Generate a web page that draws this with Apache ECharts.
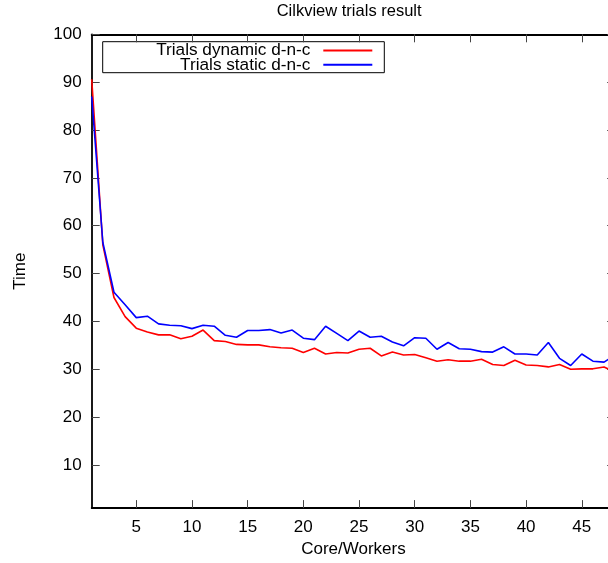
<!DOCTYPE html>
<html>
<head>
<meta charset="utf-8">
<script src="https://cdn.jsdelivr.net/npm/echarts@6/dist/echarts.min.js"></script>
<style>
  html, body { margin: 0; padding: 0; overflow: hidden; background: #fff; }
  #chart { width: 620px; height: 563px; }
</style>
</head>
<body>
<div id="chart"></div>
<script>
// data
const workers = [1, 2, 3, 4, 5, 6, 7, 8, 9, 10, 11, 12, 13, 14, 15, 16, 17, 18, 19, 20, 21, 22, 23, 24,
  25, 26, 27, 28, 29, 30, 31, 32, 33, 34, 35, 36, 37, 38, 39, 40, 41, 42, 43, 44, 45, 46, 47, 48]
const dynamicTimes = [90.6, 56.0, 45.0, 41.0, 38.6, 37.8, 37.2, 37.2, 36.4, 36.9, 38.2, 36.0, 35.8, 35.2, 35.1, 35.1,
  34.7, 34.5, 34.4, 33.5, 34.4, 33.2, 33.5, 33.4, 34.2, 34.4, 32.8, 33.6, 33.0, 33.1, 32.4, 31.7,
  32.0, 31.7, 31.7, 32.1, 31.0, 30.8, 31.9, 30.9, 30.8, 30.5, 31.0, 30.0, 30.1, 30.1, 30.5, 29.4]
const staticTimes = [87.0, 56.5, 46.1, 43.5, 40.8, 41.1, 39.5, 39.2, 39.1, 38.5, 39.2, 39.0, 37.1, 36.7, 38.1, 38.1,
  38.3, 37.6, 38.2, 36.5, 36.2, 39.0, 37.5, 36.0, 38.0, 36.7, 36.9, 35.7, 34.9, 36.6, 36.5, 34.2,
  35.6, 34.3, 34.2, 33.7, 33.6, 34.7, 33.2, 33.2, 33.0, 35.6, 32.3, 30.8, 33.2, 31.7, 31.5, 33.0]
const xTicks = [5, 10, 15, 20, 25, 30, 35, 40, 45]
const yTicks = [10, 20, 30, 40, 50, 60, 70, 80, 90, 100]
const seriesNames = ['Trials dynamic d-n-c', 'Trials static d-n-c']

const font = "'Liberation Sans', Arial, sans-serif"
const fs = 17
const legendFs = 17.2

const Chart = echarts.init(document.getElementById('chart'))

const tickStyle = { inside: true, length: 8, lineStyle: { color: '#444', width: 1 } }
const axisLine = { show: true, lineStyle: { color: '#000', width: 1.8 } }

const legendItem = (name, top) => ({
  data: [name],
  orient: 'vertical',
  align: 'right',
  right: 246.7,
  top: top,
  padding: 0,
  itemWidth: 49,
  itemHeight: 4,
  itemStyle: { opacity: 0 },
  textStyle: { fontFamily: font, fontSize: legendFs, color: '#000', padding: [0, 8, 0, 0] }
})

const option = {
  animation: false,
  backgroundColor: '#fff',
  title: {
    text: 'Cilkview trials result',
    left: 276.7,
    top: 2.5,
    padding: 0,
    textStyle: { fontFamily: font, fontSize: 16.5, fontWeight: 'normal', color: '#000' }
  },
  legend: [legendItem(seriesNames[0], 42), legendItem(seriesNames[1], 56.3)],
  graphic: [
    {
      type: 'rect',
      z: 0,
      shape: { x: 102.7, y: 41.7, width: 281.6, height: 31 },
      style: { fill: 'none', stroke: '#000', lineWidth: 1 }
    }
  ],
  grid: { left: 91.7, top: 34.3, right: 4.8, bottom: 52 },
  xAxis: [
    {
      type: 'value',
      min: 1,
      max: 48,
      name: 'Core/Workers',
      nameLocation: 'middle',
      nameGap: 31.5,
      nameTextStyle: { fontFamily: font, fontSize: fs, color: '#000' },
      axisLine: axisLine,
      axisTick: Object.assign({ customValues: xTicks }, tickStyle),
      axisLabel: { customValues: xTicks, margin: 11, fontFamily: font, fontSize: fs, color: '#000' },
      splitLine: { show: false }
    },
    {
      type: 'value',
      position: 'top',
      min: 1,
      max: 48,
      axisLine: axisLine,
      axisTick: Object.assign({ customValues: xTicks }, tickStyle),
      axisLabel: { show: false },
      splitLine: { show: false }
    }
  ],
  yAxis: [
    {
      type: 'value',
      min: 1,
      max: 100,
      name: 'Time',
      nameLocation: 'middle',
      nameRotate: 90,
      nameGap: 63,
      nameTextStyle: { fontFamily: font, fontSize: fs, color: '#000' },
      axisLine: axisLine,
      axisTick: Object.assign({ customValues: yTicks }, tickStyle),
      axisLabel: { customValues: yTicks, margin: 10, fontFamily: font, fontSize: fs, color: '#000' },
      splitLine: { show: false }
    },
    {
      type: 'value',
      position: 'right',
      min: 1,
      max: 100,
      axisLine: axisLine,
      axisTick: Object.assign({ customValues: yTicks }, tickStyle),
      axisLabel: { show: false },
      splitLine: { show: false }
    }
  ],
  series: [
    {
      name: seriesNames[0],
      type: 'line',
      symbol: 'none',
      color: '#ff0000',
      lineStyle: { color: '#ff0000', width: 1.6 },
      data: workers.map((w, i) => [w, dynamicTimes[i]])
    },
    {
      name: seriesNames[1],
      type: 'line',
      symbol: 'none',
      color: '#0000ff',
      lineStyle: { color: '#0000ff', width: 1.6 },
      data: workers.map((w, i) => [w, staticTimes[i]])
    }
  ]
}
option && Chart.setOption(option)
</script>
</body>
</html>
